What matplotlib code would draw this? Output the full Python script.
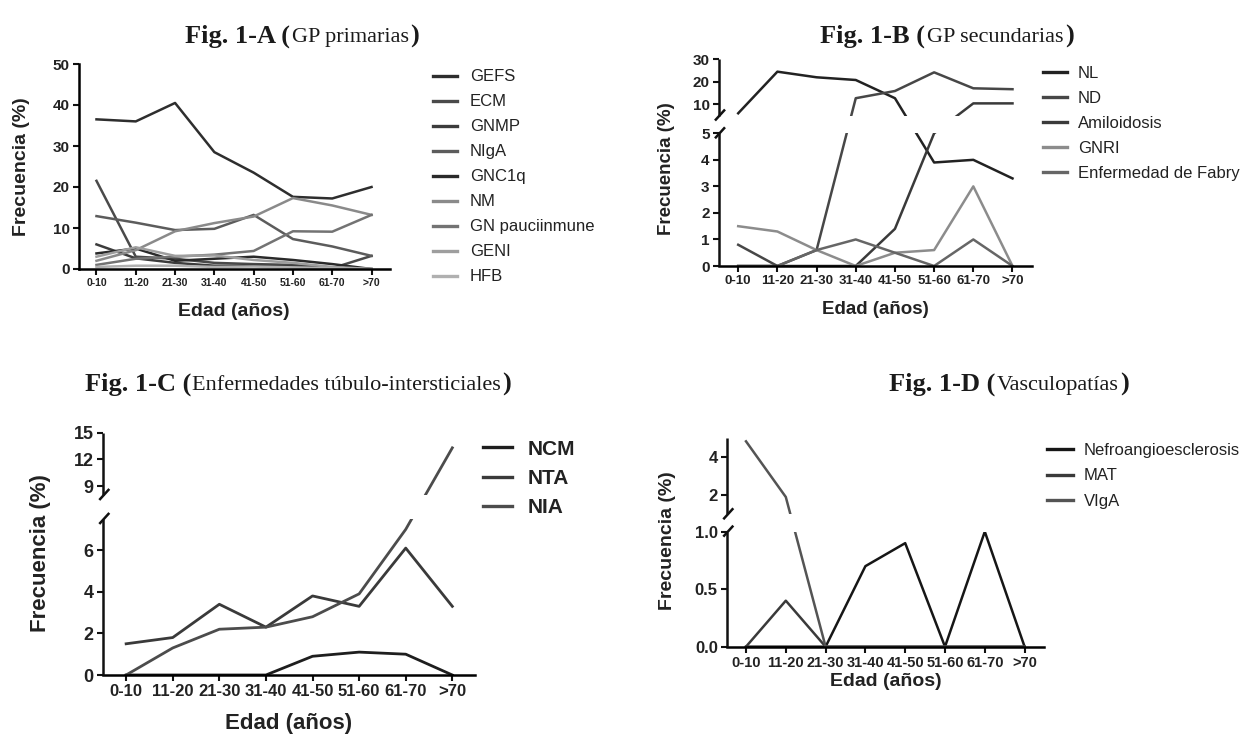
import numpy as np
import matplotlib
matplotlib.use('Agg')
import matplotlib.pyplot as plt
from matplotlib.lines import Line2D
from matplotlib.patches import Rectangle
from matplotlib.offsetbox import TextArea, HPacker, AnchoredOffsetbox

plt.rcParams['font.family'] = ['Liberation Sans', 'DejaVu Sans']

W, H = 1243, 734
ages = ['0-10', '11-20', '21-30', '31-40', '41-50', '51-60', '61-70', '>70']

# ---------------- Fig. 1-A (GP primarias) ----------------
a_names = ['GEFS', 'ECM', 'GNMP', 'NIgA', 'GNC1q', 'NM', 'GN pauciinmune', 'GENI', 'HFB']
a_gefs = [36.5, 36.0, 40.5, 28.5, 23.5, 17.6, 17.2, 20.0]
a_ecm = [21.5, 3.0, 2.5, 1.5, 1.2, 1.0, 0.2, 3.2]
a_gnmp = [6.0, 2.6, 1.5, 0.8, 0.8, 0.6, 0.3, 0.0]
a_niga = [12.9, 11.3, 9.5, 9.8, 13.2, 7.3, 5.5, 3.2]
a_gnc1q = [3.8, 5.0, 2.0, 2.5, 3.0, 2.2, 1.2, 0.0]
a_nm = [2.0, 4.6, 9.2, 11.2, 12.8, 17.3, 15.5, 13.2]
a_gnpauci = [1.0, 2.5, 3.0, 3.5, 4.4, 9.2, 9.1, 13.2]
a_geni = [3.0, 5.3, 3.2, 3.3, 2.2, 1.5, 0.5, 0.0]
a_hfb = [0.5, 0.8, 0.8, 0.5, 0.6, 0.4, 0.2, 0.0]
a_colors = ['#2e2e2e', '#4a4a4a', '#3c3c3c', '#5c5c5c', '#2a2a2a', '#8a8a8a', '#737373', '#9e9e9e', '#b0b0b0']

# ---------------- Fig. 1-B (GP secundarias) ----------------
b_names = ['NL', 'ND', 'Amiloidosis', 'GNRI', 'Enfermedad de Fabry']
b_nl = [6.0, 24.5, 22.0, 20.8, 12.7, 3.9, 4.0, 3.3]
b_nd = [0.8, 0.0, 0.6, 12.7, 15.9, 24.2, 17.1, 16.7]
b_amil = [0.0, 0.0, 0.0, 0.0, 1.4, 5.0, 10.4, 10.4]
b_gnri = [1.5, 1.3, 0.6, 0.0, 0.5, 0.6, 3.0, 0.0]
b_fabry = [0.0, 0.0, 0.6, 1.0, 0.5, 0.0, 1.0, 0.0]
b_colors = ['#222222', '#474747', '#3a3a3a', '#8c8c8c', '#666666']

# ---------------- Fig. 1-C (túbulo-intersticiales) ----------------
c_names = ['NCM', 'NTA', 'NIA']
c_ncm = [0.0, 0.0, 0.0, 0.0, 0.9, 1.1, 1.0, 0.0]
c_nta = [1.5, 1.8, 3.4, 2.3, 3.8, 3.3, 6.1, 3.3]
c_nia = [0.0, 1.3, 2.2, 2.3, 2.8, 3.9, 7.0, 13.3]
c_colors = ['#1e1e1e', '#3a3a3a', '#4c4c4c']

# ---------------- Fig. 1-D (Vasculopatías) ----------------
d_names = ['Nefroangioesclerosis', 'MAT', 'VIgA']
d_nefro = [0.0, 0.0, 0.0, 0.7, 0.9, 0.0, 1.0, 0.0]
d_mat = [0.0, 0.4, 0.0, 0.0, 0.0, 0.0, 0.0, 0.0]
d_viga = [4.8, 1.9, 0.0, 0.0, 0.0, 0.0, 0.0, 0.0]
d_colors = ['#161616', '#3a3a3a', '#545454']

fig = plt.figure(figsize=(W / 100, H / 100), dpi=100)

SPINE_LW = 1.8
LINE_LW = 1.8


def px2fig(x, y):
    return (x / W, 1 - y / H)


def rect(l, t, r, b):
    return [l / W, 1 - b / H, (r - l) / W, (b - t) / H]


def broken_scale(segs):
    xp, fp = [], []
    for lo, hi, f0, f1 in segs:
        if xp and lo <= xp[-1]:
            lo = xp[-1] + 1e-6
        xp += [lo, hi]
        fp += [f0, f1]
    s0 = (fp[1] - fp[0]) / (xp[1] - xp[0])
    s1 = (fp[-1] - fp[-2]) / (xp[-1] - xp[-2])
    xp = np.array([xp[0] - 1000] + xp + [xp[-1] + 1000])
    fp = np.array([fp[0] - 1000 * s0] + fp + [fp[-1] + 1000 * s1])

    def fwd(y):
        return np.interp(y, xp, fp)

    def inv(t):
        return np.interp(t, fp, xp)
    return fwd, inv


def style_axes(ax, xlim, ytick_fs, xtick_fs):
    ax.set_xlim(*xlim)
    ax.set_xticks(range(len(ages)))
    ax.set_xticklabels(ages)
    for s in ['top', 'right']:
        ax.spines[s].set_visible(False)
    ax.spines['bottom'].set_linewidth(SPINE_LW)
    ax.spines['left'].set_linewidth(SPINE_LW)
    ax.tick_params(axis='both', direction='out', length=4.3, width=1.5, pad=2.5, color='#111111')
    ax.tick_params(axis='y', labelsize=ytick_fs)
    ax.tick_params(axis='x', labelsize=xtick_fs)
    for lab in ax.get_xticklabels() + ax.get_yticklabels():
        lab.set_fontweight('bold')
        lab.set_color('#222222')


def apply_break(ax, box, segs):
    l, t, r, b = box
    hgt = b - t
    ax.spines['left'].set_visible(False)
    fa = segs[0][3]
    fb = segs[1][2]
    ax.add_patch(Rectangle((0, fa), 1, fb - fa, transform=ax.transAxes,
                           facecolor='white', edgecolor='none', zorder=3))
    for lo, hi, f0, f1 in segs:
        ax.plot([0, 0], [f0, f1], transform=ax.transAxes, color='#111111',
                lw=SPINE_LW, clip_on=False, solid_capstyle='butt', zorder=5)
    for f in (fa, fb):
        ypx = b - f * hgt
        x0, y0 = px2fig(l - 4, ypx + 5)
        x1, y1 = px2fig(l + 6, ypx - 6)
        fig.add_artist(Line2D([x0, x1], [y0, y1], transform=fig.transFigure,
                              color='#111111', lw=SPINE_LW, solid_capstyle='butt'))


def add_legend(ax, names, x_line, y_top, fs, hl, htp, ls, weight='normal'):
    handles = ax.get_lines()[:len(names)]
    proxies = [Line2D([], [], color=h.get_color(), lw=2.4) for h in handles]
    leg = fig.legend(proxies, names, loc='upper left', bbox_to_anchor=px2fig(x_line, y_top),
                     bbox_transform=fig.transFigure, frameon=False, borderpad=0,
                     borderaxespad=0, handlelength=hl, handletextpad=htp, labelspacing=ls,
                     prop={'size': fs, 'weight': weight, 'family': 'Liberation Sans'})
    for txt in leg.get_texts():
        txt.set_color('#222222')
    return leg


def add_title(cx, cy, bold1, regular, bold2, fs_b, fs_r):
    tb = dict(fontfamily='Liberation Serif', fontsize=fs_b, fontweight='bold', color='#1a1a1a')
    tr = dict(fontfamily='Liberation Serif', fontsize=fs_r, fontweight='normal', color='#1a1a1a')
    pack = HPacker(children=[TextArea(bold1, textprops=tb), TextArea(regular, textprops=tr),
                             TextArea(bold2, textprops=tb)], align='baseline', pad=0, sep=1)
    box = AnchoredOffsetbox(loc='center', child=pack, pad=0, borderpad=0, frameon=False,
                            bbox_to_anchor=px2fig(cx, cy), bbox_transform=fig.transFigure)
    fig.add_artist(box)


def add_labels(xc, yl_x, yl_y, fs):
    x, y = px2fig(*xc)
    fig.text(x, y, 'Edad (años)', ha='center', va='center', fontsize=fs, fontweight='bold', color='#222222')
    x, y = px2fig(yl_x, yl_y)
    fig.text(x, y, 'Frecuencia (%)', ha='center', va='center', rotation=90, fontsize=fs,
             fontweight='bold', color='#222222')


xs = np.arange(len(ages))
TB, TR = 19, 16

# ===== Panel A =====
box_a = (79, 64, 390, 269)
ax_a = fig.add_axes(rect(*box_a))
for vals, c in zip([a_gefs, a_ecm, a_gnmp, a_niga, a_gnc1q, a_nm, a_gnpauci, a_geni, a_hfb], a_colors):
    ax_a.plot(xs, vals, color=c, lw=LINE_LW, zorder=2)
ax_a.set_ylim(0, 50)
ax_a.set_yticks([0, 10, 20, 30, 40, 50])
style_axes(ax_a, (-0.445, 7.47), 11, 7.5)
add_legend(ax_a, a_names, 433, 69.4, 12, 1.44, 0.78, 0.6)
add_title(302, 36, 'Fig. 1-A (', 'GP primarias', ')', TB, TR)
add_labels((234, 311), 22, 167, 14)

# ===== Panel B =====
box_b = (719, 59.3, 1031.7, 266)
ax_b = fig.add_axes(rect(*box_b))
segs_b = [(0, 5, 0, 0.642), (5, 30, 0.728, 1.0)]
fwd, inv = broken_scale(segs_b)
ax_b.set_yscale('function', functions=(fwd, inv))
for vals, c in zip([b_nl, b_nd, b_amil, b_gnri, b_fabry], b_colors):
    ax_b.plot(xs, vals, color=c, lw=LINE_LW, zorder=2)
ax_b.set_ylim(0, 30)
ax_b.set_yticks([0, 1, 2, 3, 4, 5, 10, 20, 30])
ax_b.set_yticklabels(['0', '1', '2', '3', '4', '5', '10', '20', '30'])
ax_b.minorticks_off()
style_axes(ax_b, (-0.49, 7.49), 11, 9.5)
apply_break(ax_b, box_b, segs_b)
add_legend(ax_b, b_names, 1043, 65.8, 12, 1.44, 0.66, 0.6)
add_title(947, 36, 'Fig. 1-B (', 'GP secundarias', ')', TB, TR)
add_labels((875, 310), 667, 169, 13.5)

# ===== Panel C =====
box_c = (103.3, 432.7, 474.7, 675)
ax_c = fig.add_axes(rect(*box_c))
segs_c = [(0, 7.5, 0, 0.644), (8, 15, 0.743, 1.0)]
fwd, inv = broken_scale(segs_c)
ax_c.set_yscale('function', functions=(fwd, inv))
for vals, c in zip([c_ncm, c_nta, c_nia], c_colors):
    ax_c.plot(xs, vals, color=c, lw=2.0, zorder=2)
ax_c.set_ylim(0, 15)
ax_c.set_yticks([0, 2, 4, 6, 9, 12, 15])
ax_c.set_yticklabels(['0', '2', '4', '6', '9', '12', '15'])
ax_c.minorticks_off()
style_axes(ax_c, (-0.49, 7.48), 13, 12)
apply_break(ax_c, box_c, segs_c)
add_legend(ax_c, c_names, 483, 439.5, 15, 1.4, 0.72, 0.5, weight='bold')
add_title(298, 384, 'Fig. 1-C (', 'Enfermedades túbulo-intersticiales', ')', TB, TR)
add_labels((289, 724), 41, 553, 16)

# ===== Panel D =====
box_d = (727.3, 437.5, 1043.7, 646.7)
ax_d = fig.add_axes(rect(*box_d))
segs_d = [(0, 1, 0, 0.55), (1, 5, 0.633, 1.0)]
fwd, inv = broken_scale(segs_d)
ax_d.set_yscale('function', functions=(fwd, inv))
for vals, c in zip([d_nefro, d_mat, d_viga], d_colors):
    ax_d.plot(xs, vals, color=c, lw=LINE_LW, zorder=2)
ax_d.set_ylim(0, 5)
ax_d.set_yticks([0, 0.5, 1.0, 2, 4])
ax_d.set_yticklabels(['0.0', '0.5', '1.0', '2', '4'])
ax_d.minorticks_off()
style_axes(ax_d, (-0.47, 7.48), 12, 10.5)
apply_break(ax_d, box_d, segs_d)
add_legend(ax_d, d_names, 1046.7, 443, 12, 1.6, 0.64, 0.63)
add_title(1009, 384, 'Fig. 1-D (', 'Vasculopatías', ')', TB, TR)
add_labels((886, 681), 668, 541, 14)

fig.savefig('out.png', dpi=100)
